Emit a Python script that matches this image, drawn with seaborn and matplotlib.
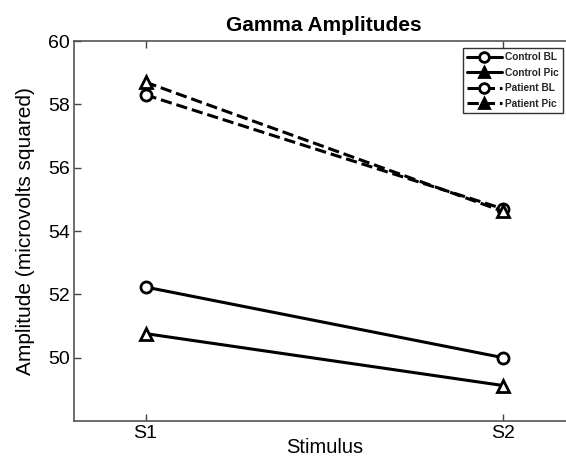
import matplotlib
matplotlib.use("Agg")
import matplotlib.pyplot as plt
import seaborn as sns
import pandas as pd

stimuli = ["S1", "S2"]
x_pos = [1, 2]
control_bl = [52.23, 50.0]
control_pic = [50.76, 49.12]
patient_bl = [58.30, 54.70]
patient_pic = [58.70, 54.62]
series_names = ["Control BL", "Control Pic", "Patient BL", "Patient Pic"]
y_ticks = [50, 52, 54, 56, 58, 60]

sns.set_style("white")
plt.rcParams["font.family"] = ["Liberation Sans", "DejaVu Sans"]

fig = plt.figure(figsize=(5.66, 4.57), dpi=100)
ax = fig.add_axes([74 / 566, 36 / 457, 500.6 / 566, 380 / 457])

series = [control_bl, control_pic, patient_bl, patient_pic]
markers = ["o", "^", "o", "^"]
styles = ["-", "-", "--", "--"]
for name, vals, mk, ls in zip(series_names, series, markers, styles):
    df = pd.DataFrame({"x": x_pos, "y": vals})
    kw = dict(dashes=(3, 1.6)) if ls == "--" else {}
    sns.lineplot(data=df, x="x", y="y", ax=ax, color="black", linewidth=2.2,
                 linestyle=ls, marker=mk, markersize=8, markerfacecolor="white",
                 markeredgecolor="black", markeredgewidth=2, label=name, **kw)

ax.set_xlim(0.8, 2.2)
ax.set_ylim(48, 60)
ax.set_xticks(x_pos)
ax.set_xticklabels(stimuli)
ax.set_yticks(y_ticks)
ax.tick_params(axis="both", direction="in", length=5, width=1, color="#444444",
               labelsize=14, labelcolor="black", top=True, right=True,
               bottom=True, left=True, pad=3)
for s in ax.spines.values():
    s.set_color("#555555")
    s.set_linewidth(1.2)

ax.set_xlabel("Stimulus", fontsize=14.5, labelpad=-3, color="black")
ax.set_ylabel("Amplitude (microvolts squared)", fontsize=15, labelpad=9, color="black")
ax.set_title("Gamma Amplitudes", fontsize=15, fontweight="bold", pad=7, color="black")

handles, labels = ax.get_legend_handles_labels()
leg = ax.legend(handles, labels, loc="upper left", bbox_to_anchor=(463 / 566, 1 - 48 / 457),
                bbox_transform=fig.transFigure, frameon=True, fancybox=False,
                prop={"size": 7.3, "weight": "bold"}, handlelength=3.4, handletextpad=0.35,
                labelspacing=0.55, borderpad=0.4, borderaxespad=0)
leg.get_frame().set_edgecolor("black")
leg.get_frame().set_linewidth(1)
for h, mk in zip(leg.legend_handles, markers):
    h.set_markerfacecolor("black" if mk == "^" else "white")
    h.set_markersize(7)

fig.savefig("out.png", dpi=100)
